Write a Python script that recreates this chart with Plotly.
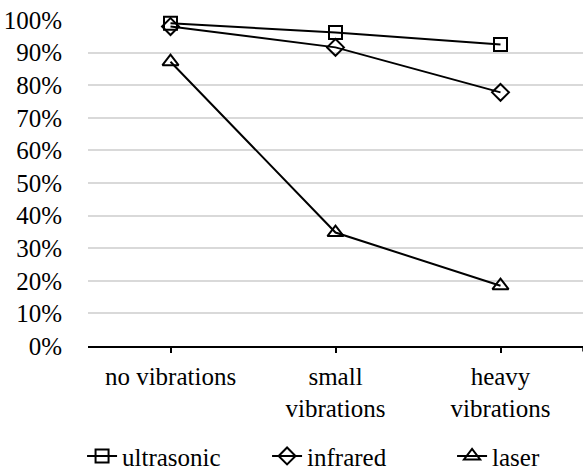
import plotly.graph_objects as go

categories = ["no vibrations", "small<br>vibrations", "heavy<br>vibrations"]
ultrasonic = [0.99, 0.962, 0.925]
infrared = [0.98, 0.916, 0.778]
laser = [0.872, 0.348, 0.185]
y_ticks = [0, 0.1, 0.2, 0.3, 0.4, 0.5, 0.6, 0.7, 0.8, 0.9, 1.0]

FONT = "'Times New Roman', 'Liberation Serif', serif"
FS = 25

fig = go.Figure()
series = [
    ("ultrasonic", ultrasonic, "square-open", 13),
    ("infrared", infrared, "diamond-open", 13),
    ("laser", laser, "triangle-up-open", 14),
]
for name, vals, sym, sz in series:
    fig.add_trace(go.Scatter(
        x=categories, y=vals, name=name, mode="lines+markers",
        line=dict(color="black", width=2),
        marker=dict(symbol=sym, size=sz, color="black", line=dict(color="black", width=2)),
        cliponaxis=False,
    ))

fig.add_shape(type="line", xref="x", yref="paper", x0=2.5, x1=2.5, y0=0, y1=-0.017,
              line=dict(color="black", width=1.5))

fig.update_layout(
    width=584, height=472,
    margin=dict(l=88, r=1, t=20, b=126, autoexpand=False),
    paper_bgcolor="white", plot_bgcolor="white",
    font=dict(family=FONT, size=FS, color="black"),
    showlegend=True,
    legend=dict(orientation="h", x=-0.012, xanchor="left", y=-0.338, yanchor="middle",
                font=dict(family=FONT, size=FS), entrywidth=140, itemwidth=30,
                traceorder="normal"),
    xaxis=dict(type="category", range=[-0.5, 2.5], showgrid=False, automargin=False,
               showline=True, linecolor="black", linewidth=1.5,
               ticks="outside", ticklen=5, tickcolor="black", tickwidth=1.5,
               ticklabelstandoff=2, tickfont=dict(family=FONT, size=FS)),
    yaxis=dict(range=[0, 1.0], tickvals=y_ticks, tickformat=".0%", automargin=False,
               showgrid=True, gridcolor="#d9d9d9", gridwidth=1.5,
               zeroline=False, showline=False, ticks="",
               ticklabelstandoff=25, tickfont=dict(family=FONT, size=FS)),
)

fig.write_html("out.html", config={"displayModeBar": False},
               post_script="document.body.style.margin='0';")
